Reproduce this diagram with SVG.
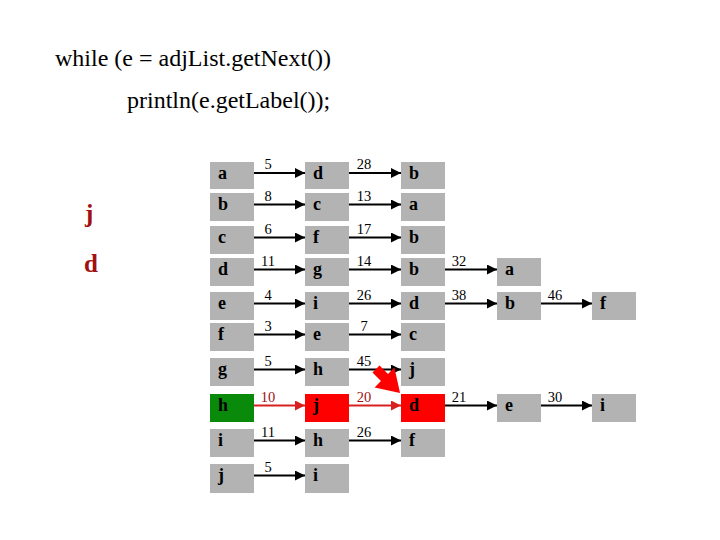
<svg xmlns="http://www.w3.org/2000/svg" width="720" height="540" viewBox="0 0 720 540">
<style>
.code{font-family:"Liberation Serif","Tinos","Nimbus Roman","DejaVu Serif",serif;font-size:24px;fill:#000}
.box{fill:#b3b3b3}
.lbl{font-family:"Liberation Serif","Tinos","Nimbus Roman","DejaVu Serif",serif;font-size:18px;font-weight:bold;fill:#000}
.num{font-family:"Liberation Serif","Tinos","Nimbus Roman","DejaVu Serif",serif;font-size:14.5px;fill:#000;text-anchor:middle}
.numr{font-family:"Liberation Serif","Tinos","Nimbus Roman","DejaVu Serif",serif;font-size:14.5px;fill:#a01010;text-anchor:middle}
.edge{stroke:#000;stroke-width:2;fill:none;marker-end:url(#ah)}
.edger{stroke:#d82020;stroke-width:2;fill:none;marker-end:url(#ahr)}
.side{font-family:"Liberation Serif","Tinos","Nimbus Roman","DejaVu Serif",serif;font-size:25px;font-weight:bold;fill:#a01010}
</style>
<defs>
<marker id="ah" markerWidth="10" markerHeight="10" refX="10" refY="5" orient="auto" markerUnits="userSpaceOnUse"><path d="M0,0 L10,5 L0,10 Z" fill="#000"/></marker>
<marker id="ahr" markerWidth="10" markerHeight="10" refX="10" refY="5" orient="auto" markerUnits="userSpaceOnUse"><path d="M0,0 L10,5 L0,10 Z" fill="#d82020"/></marker>
</defs>
<rect width="720" height="540" fill="#fff"/>
<text class="code" x="55" y="66">while (e = adjList.getNext())</text>
<text class="code" x="127" y="108">println(e.getLabel());</text>
<text class="side" x="85" y="222">j</text>
<text class="side" x="84" y="272">d</text>

<g id="connectors">
<path class="edge" d="M254,173 H305"/><text class="num" x="268" y="169">5</text>
<path class="edge" d="M349,173 H401"/><text class="num" x="364" y="169">28</text>
<path class="edge" d="M254,204.5 H305"/><text class="num" x="268" y="200.5">8</text>
<path class="edge" d="M349,204.5 H401"/><text class="num" x="364" y="200.5">13</text>
<path class="edge" d="M254,237.5 H305"/><text class="num" x="268" y="233.5">6</text>
<path class="edge" d="M349,237.5 H401"/><text class="num" x="364" y="233.5">17</text>
<path class="edge" d="M254,269.5 H305"/><text class="num" x="268" y="265.5">11</text>
<path class="edge" d="M349,269.5 H401"/><text class="num" x="364" y="265.5">14</text>
<path class="edge" d="M445,269.5 H497"/><text class="num" x="459" y="265.5">32</text>
<path class="edge" d="M254,303.5 H305"/><text class="num" x="268" y="299.5">4</text>
<path class="edge" d="M349,303.5 H401"/><text class="num" x="364" y="299.5">26</text>
<path class="edge" d="M445,303.5 H497"/><text class="num" x="459" y="299.5">38</text>
<path class="edge" d="M541,303.5 H592"/><text class="num" x="555" y="299.5">46</text>
<path class="edge" d="M254,334.5 H305"/><text class="num" x="268" y="330.5">3</text>
<path class="edge" d="M349,334.5 H401"/><text class="num" x="364" y="330.5">7</text>
<path class="edge" d="M254,369.5 H305"/><text class="num" x="268" y="365.5">5</text>
<path class="edge" d="M349,369.5 H401"/><text class="num" x="364" y="365.5">45</text>
<path class="edger" d="M254,405.5 H305"/><text class="numr" x="268" y="401.5">10</text>
<path class="edger" d="M349,405.5 H401"/><text class="numr" x="364" y="401.5">20</text>
<path class="edge" d="M445,405.5 H497"/><text class="num" x="459" y="401.5">21</text>
<path class="edge" d="M541,405.5 H592"/><text class="num" x="555" y="401.5">30</text>
<path class="edge" d="M254,440.5 H305"/><text class="num" x="268" y="436.5">11</text>
<path class="edge" d="M349,440.5 H401"/><text class="num" x="364" y="436.5">26</text>
<path class="edge" d="M254,475.5 H305"/><text class="num" x="268" y="471.5">5</text>
</g>

<g id="a1"><rect class="box" x="210" y="162" width="44" height="27"/><text class="lbl" x="218" y="178.5">a</text></g>
<g id="a2"><rect class="box" x="305" y="162" width="44" height="27"/><text class="lbl" x="313" y="178.5">d</text></g>
<g id="a3"><rect class="box" x="401" y="162" width="44" height="27"/><text class="lbl" x="409" y="178.5">b</text></g>
<g id="b1"><rect class="box" x="210" y="193" width="44" height="28"/><text class="lbl" x="218" y="210">b</text></g>
<g id="b2"><rect class="box" x="305" y="193" width="44" height="28"/><text class="lbl" x="313" y="210">c</text></g>
<g id="b3"><rect class="box" x="401" y="193" width="44" height="28"/><text class="lbl" x="409" y="210">a</text></g>
<g id="c1"><rect class="box" x="210" y="226" width="44" height="28"/><text class="lbl" x="218" y="243">c</text></g>
<g id="c2"><rect class="box" x="305" y="226" width="44" height="28"/><text class="lbl" x="313" y="243">f</text></g>
<g id="c3"><rect class="box" x="401" y="226" width="44" height="28"/><text class="lbl" x="409" y="243">b</text></g>
<g id="d1"><rect class="box" x="210" y="258" width="44" height="28"/><text class="lbl" x="218" y="275">d</text></g>
<g id="d2"><rect class="box" x="305" y="258" width="44" height="28"/><text class="lbl" x="313" y="275">g</text></g>
<g id="d3"><rect class="box" x="401" y="258" width="44" height="28"/><text class="lbl" x="409" y="275">b</text></g>
<g id="d4"><rect class="box" x="497" y="258" width="44" height="28"/><text class="lbl" x="505" y="275">a</text></g>
<g id="e1"><rect class="box" x="210" y="292" width="44" height="28"/><text class="lbl" x="218" y="309">e</text></g>
<g id="e2"><rect class="box" x="305" y="292" width="44" height="28"/><text class="lbl" x="313" y="309">i</text></g>
<g id="e3"><rect class="box" x="401" y="292" width="44" height="28"/><text class="lbl" x="409" y="309">d</text></g>
<g id="e4"><rect class="box" x="497" y="292" width="44" height="28"/><text class="lbl" x="505" y="309">b</text></g>
<g id="e5"><rect class="box" x="592" y="292" width="44" height="28"/><text class="lbl" x="600" y="309">f</text></g>
<g id="f1"><rect class="box" x="210" y="323" width="44" height="28"/><text class="lbl" x="218" y="340">f</text></g>
<g id="f2"><rect class="box" x="305" y="323" width="44" height="28"/><text class="lbl" x="313" y="340">e</text></g>
<g id="f3"><rect class="box" x="401" y="323" width="44" height="28"/><text class="lbl" x="409" y="340">c</text></g>
<g id="g1"><rect class="box" x="210" y="358" width="44" height="28"/><text class="lbl" x="218" y="375">g</text></g>
<g id="g2"><rect class="box" x="305" y="358" width="44" height="28"/><text class="lbl" x="313" y="375">h</text></g>
<g id="g3"><rect class="box" x="401" y="358" width="44" height="28"/><text class="lbl" x="409" y="375">j</text></g>
<g id="h1"><rect x="210" y="394" width="44" height="28" fill="#0a8a0a"/><text class="lbl" x="218" y="411">h</text></g>
<g id="h2"><rect x="305" y="394" width="44" height="28" fill="#ff0000"/><text class="lbl" x="313" y="411">j</text></g>
<g id="h3"><rect x="401" y="394" width="44" height="28" fill="#ff0000"/><text class="lbl" x="409" y="411">d</text></g>
<g id="h4"><rect class="box" x="497" y="394" width="44" height="28"/><text class="lbl" x="505" y="411">e</text></g>
<g id="h5"><rect class="box" x="592" y="394" width="44" height="28"/><text class="lbl" x="600" y="411">i</text></g>
<g id="i1"><rect class="box" x="210" y="429" width="44" height="28"/><text class="lbl" x="218" y="446">i</text></g>
<g id="i2"><rect class="box" x="305" y="429" width="44" height="28"/><text class="lbl" x="313" y="446">h</text></g>
<g id="i3"><rect class="box" x="401" y="429" width="44" height="28"/><text class="lbl" x="409" y="446">f</text></g>
<g id="j1"><rect class="box" x="210" y="464" width="44" height="29"/><text class="lbl" x="218" y="481">j</text></g>
<g id="j2"><rect class="box" x="305" y="464" width="44" height="29"/><text class="lbl" x="313" y="481">i</text></g>

<g id="pointer">
<path d="M0,-5 L12,-5 L12,-14 L34,0 L12,14 L12,5 L0,5 Z" fill="#ff0000" transform="translate(376,369) rotate(45)"/>
</g>
</svg>
